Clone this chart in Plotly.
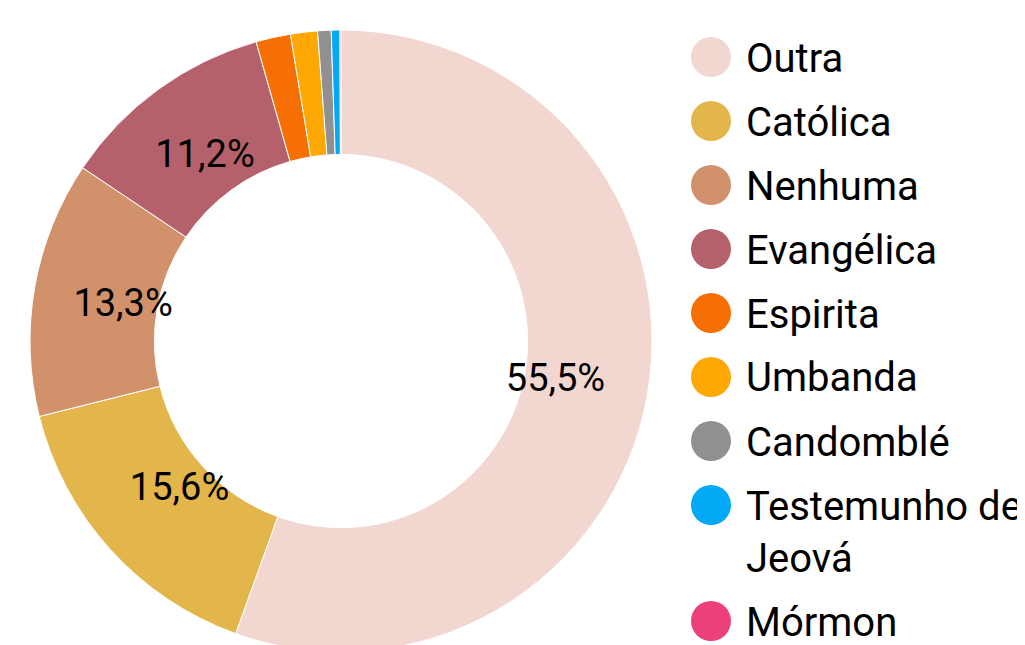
import plotly.graph_objects as go

# ---- data ----
labels = ["Outra", "Católica", "Nenhuma", "Evangélica", "Espirita", "Umbanda",
          "Candomblé", "Testemunho de Jeová", "Mórmon"]
legend_labels = ["Outra", "Católica", "Nenhuma", "Evangélica", "Espirita", "Umbanda",
                 "Candomblé", "Testemunho de<br>Jeová", "Mórmon"]
values = [55.5, 15.6, 13.3, 11.2, 1.8, 1.4, 0.7, 0.45, 0.05]
colors = ["#F2D7D1", "#E3B64C", "#D1926B", "#B5616B", "#F66F02", "#FFA702",
          "#909090", "#03A9F4", "#EC407A"]

W, H = 1025, 660
OFF = 8  # page body margin
FONT = "Roboto"

# pie geometry (layout, in figure pixels)
cx, cy, R = 341 - OFF, 341 - OFF, 311
dom_x = [(cx - R) / W, (cx + R) / W]
dom_y = [1 - (cy + R) / H, 1 - (cy - R) / H]
dom_y = [max(0.0, dom_y[0]), min(1.0, dom_y[1])]

def fmt(v):
    return (f"{v:.1f}".replace(".", ",") + "%") if v >= 5 else ""

texts = [fmt(v) for v in values]

fig = go.Figure()
fig.add_trace(go.Pie(
    labels=labels, values=values, sort=False, direction="clockwise", rotation=0,
    hole=0.6, domain=dict(x=dom_x, y=dom_y),
    marker=dict(colors=colors, line=dict(color="white", width=1)),
    textinfo="none", showlegend=False, hoverinfo="label+percent",
))
# transparent overlay pie used only to place the value labels
fig.add_trace(go.Pie(
    labels=labels, values=values, sort=False, direction="clockwise", rotation=0,
    hole=0.4, domain=dict(x=dom_x, y=dom_y),
    marker=dict(colors=["rgba(0,0,0,0)"] * len(values), line=dict(width=0)),
    text=texts, texttemplate="%{text}", textposition="inside",
    insidetextorientation="horizontal",
    textfont=dict(family=FONT, size=38, color="#000000"),
    showlegend=False, hoverinfo="skip",
))

# custom legend: big circles + labels
shapes, annotations = [], []
row_y = 57 - OFF
circ_x = 711 - OFF
text_x = 744 - OFF
for lab, col in zip(legend_labels, colors):
    nlines = lab.count("<br>") + 1
    yp = 1 - row_y / H
    shapes.append(dict(type="circle", xref="paper", yref="paper",
                       xsizemode="pixel", ysizemode="pixel",
                       xanchor=circ_x / W, yanchor=yp,
                       x0=-20, x1=20, y0=-20, y1=20,
                       fillcolor=col, line=dict(width=0)))
    annotations.append(dict(xref="paper", yref="paper", x=text_x / W,
                            y=1 - (row_y + 1 + (nlines - 1) * 26) / H,
                            xanchor="left", yanchor="middle", showarrow=False,
                            align="left", text=lab,
                            font=dict(family=FONT, size=40, color="#000000")))
    row_y += 64 + (nlines - 1) * 52

fig.update_layout(
    width=W, height=H, margin=dict(l=0, r=0, t=0, b=0),
    paper_bgcolor="white", plot_bgcolor="white",
    font=dict(family=FONT, size=38, color="#000000"),
    shapes=shapes, annotations=annotations,
)

fig.write_html("out.html")
